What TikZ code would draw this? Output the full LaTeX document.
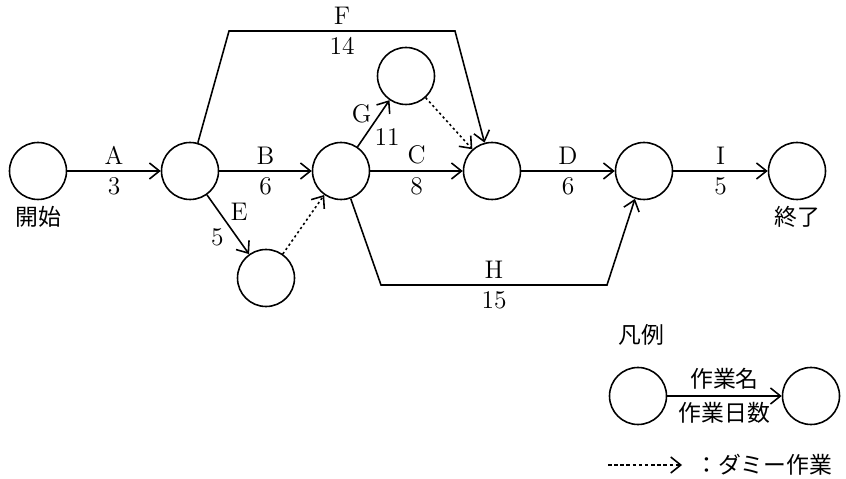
\documentclass[tikz,border=0pt]{standalone}
\usepackage{fontspec}
\newfontfamily\jp{Noto Sans CJK JP}
\usetikzlibrary{arrows.meta, positioning}

\begin{document}
\begin{tikzpicture}[
    x=0.2mm, y=-0.2mm,
    font=\fontsize{14.5}{16}\selectfont,
    event/.style={circle, draw, line width=0.9pt, minimum size=11.4mm, inner sep=0pt},
    line/.style={draw, line width=0.9pt, -{Straight Barb[length=2mm, width=3.2mm]}},
    dummy/.style={line, dash pattern=on 1.3pt off 1.6pt},
    jlabel/.style={font=\jp\fontsize{13}{15}\selectfont}
]
    \useasboundingbox (0,0) rectangle (846,479);

    % events
    \node [event] (start) at (38,171) {};
    \node [event] (afterA) at (190,171) {};
    \node [event] (afterE) at (266,278) {};
    \node [event] (afterB) at (341,171) {};
    \node [event] (afterG) at (406,76) {};
    \node [event] (afterC) at (492,171) {};
    \node [event] (afterD) at (644,171) {};
    \node [event] (finish) at (797,171) {};
    \node [jlabel, below=0pt of start] (startlabel) {開始};
    \node [jlabel, below=0pt of finish] (finishlabel) {終了};

    % bends of F and H
    \coordinate (fleft) at (229,31);
    \coordinate (fright) at (455,31);
    \coordinate (hleft) at (381,285);
    \coordinate (hright) at (607,285);

    % activities
    \path [line] (start) -- node[above=0pt]{A} node[below=0pt]{3} (afterA);
    \path [line] (afterA) -- node[above=0pt]{B} node[below=0pt]{6} (afterB);
    \path [line] (afterA) -- node[pos=0.28, right=3pt]{E} node[pos=0.72, left=4pt]{5} (afterE);
    \path [line] (afterB) -- node[pos=0.7, left=1pt]{G} node[pos=0.22, right=2pt]{11} (afterG);
    \path [line] (afterB) -- node[above=0pt]{C} node[below=0pt]{8} (afterC);
    \path [line] (afterC) -- node[above=0pt]{D} node[below=0pt]{6} (afterD);
    \path [line] (afterD) -- node[above=0pt]{I} node[below=0pt]{5} (finish);
    \path [line] (afterA) -- (fleft) -- node[above=0pt]{F} node[below=0pt]{14} (fright) -- (afterC);
    \path [line] (afterB) -- (hleft) -- node[above=0pt]{H} node[below=0pt]{15} (hright) -- (afterD);
    \path [dummy] (afterE) -- (afterB);
    \path [dummy] (afterG) -- (afterC);

    % legend
    \node [jlabel] (legendtitle) at (641,335) {凡例};
    \node [event] (legendfrom) at (638,396) {};
    \node [event] (legendto) at (811,396) {};
    \path [line] (legendfrom) -- node[jlabel, above]{作業名} node[jlabel, below]{作業日数} (legendto);
    \coordinate (dummyfrom) at (608,465);
    \coordinate (dummyto) at (682,465);
    \path [dummy, dash pattern=on 2pt off 1.5pt] (dummyfrom) -- (dummyto);
    \node [jlabel, right=4pt of dummyto] (dummytext) {：ダミー作業};
\end{tikzpicture}
\end{document}
